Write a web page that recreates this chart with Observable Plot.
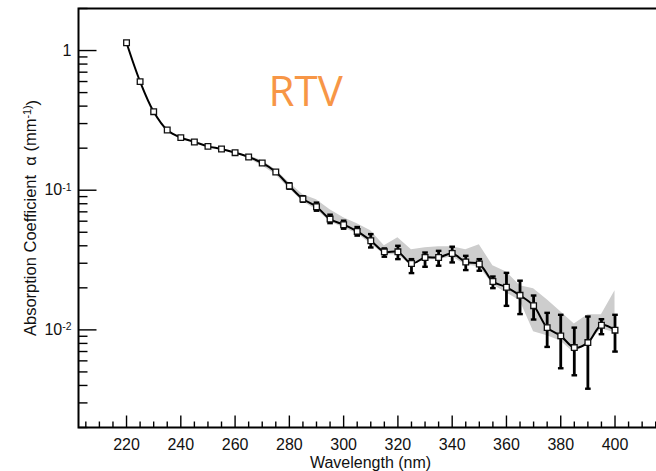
<!DOCTYPE html>
<html>
<head>
<meta charset="utf-8">
<script src="https://cdn.jsdelivr.net/npm/d3@7"></script>
<script src="https://cdn.jsdelivr.net/npm/@observablehq/plot@0.6"></script>
<style>
  html, body { margin: 0; padding: 0; background: #fff; }
  #chart { width: 656px; height: 471px; overflow: hidden; }
</style>
</head>
<body>
<div id="chart"></div>
<script>
// ---- data ----
const wavelength = [220,225,230,235,240,245,250,255,260,265,270,275,280,285,290,295,300,305,310,315,320,325,330,335,340,345,350,355,360,365,370,375,380,385,390,395,400];
const alpha = [1.136,0.599,0.365,0.270,0.238,0.2216,0.206,0.1974,0.1857,0.173,0.1567,0.135,0.1072,0.0865,0.0762,0.0621,0.0566,0.0507,0.0435,0.0362,0.0362,0.0299,0.033,0.033,0.0352,0.0306,0.0296,0.0222,0.0202,0.01767,0.0149,0.01038,0.00906,0.00747,0.00811,0.0108,0.00995];

const errWavelength = [280,285,290,295,300,305,310,315,320,325,330,335,340,345,350,355,360,365,370,375,380,385,390,395,400];
const errHigh = [0.1123,0.0906,0.0815,0.0668,0.0605,0.0545,0.0485,0.0383,0.0400,0.0321,0.0358,0.0368,0.0394,0.0339,0.0321,0.0241,0.0256,0.0225,0.01762,0.01324,0.01282,0.01038,0.01246,0.01193,0.01282];
const errLow  = [0.1024,0.0826,0.0713,0.0581,0.0530,0.0473,0.0389,0.0334,0.0321,0.0255,0.0283,0.0288,0.0304,0.0268,0.0265,0.0199,0.01486,0.01297,0.01186,0.00755,0.00531,0.00473,0.00379,0.00931,0.00699];

const bandWavelength = [265,270,275,280,285,290,295,300,305,310,315,320,325,330,335,340,345,350,355,360,365,370,375,380,385,390,395,400];
const bandHigh = [0.1768,0.1627,0.1403,0.1132,0.0928,0.0855,0.0725,0.0635,0.0575,0.0513,0.0400,0.0456,0.0375,0.0387,0.0394,0.0394,0.0375,0.0407,0.0288,0.0260,0.0207,0.01967,0.01641,0.01346,0.01104,0.01281,0.01281,0.01904];
const bandLow  = [0.1682,0.1498,0.1292,0.1025,0.0827,0.0725,0.0594,0.0538,0.0488,0.0414,0.0345,0.0345,0.0288,0.0318,0.0318,0.0334,0.0292,0.0283,0.0210,0.0184,0.01614,0.00968,0.00906,0.00834,0.00684,0.00794,0.01017,0.00952];

const xMajorTicks = [220,240,260,280,300,320,340,360,380,400];
const xMinorTicks = [205,210,215,225,230,235,245,250,255,265,270,275,285,290,295,305,310,315,325,330,335,345,350,355,365,370,375,385,390,395,405,410,415];
const yMajorTicks = [1,0.1,0.01];
const yMajorLabels = ["1","10^-1","10^-2"];
const yMinorTicks = [0.002,0.003,0.004,0.005,0.006,0.007,0.008,0.009,0.02,0.03,0.04,0.05,0.06,0.07,0.08,0.09,0.2,0.3,0.4,0.5,0.6,0.7,0.8,0.9,2];

const xTitle = "Wavelength (nm)";
const yTitle = "Absorption Coefficient  \u03b1 (mm^-1)";
const annotation = "RTV";

// ---- tables ----
const points = wavelength.map((w, i) => ({w, a: alpha[i]}));
const errs = errWavelength.map((w, i) => ({w, lo: errLow[i], hi: errHigh[i]}));
const band = bandWavelength.map((w, i) => ({w, lo: bandLow[i], hi: bandHigh[i]}));

// custom tick / cap symbols
const upTick = L => ({draw(ctx) { ctx.moveTo(0, 0); ctx.lineTo(0, -L); }});
const rightTick = L => ({draw(ctx) { ctx.moveTo(0, 0); ctx.lineTo(L, 0); }});
const cap = W => ({draw(ctx) { ctx.moveTo(-W, 0); ctx.lineTo(W, 0); }});

const FONT = "'Liberation Sans', Arial, Helvetica, sans-serif";

const chart = Plot.plot({
  width: 656,
  height: 471,
  marginLeft: 78,
  marginRight: -6,
  marginTop: 8,
  marginBottom: 44,
  style: {fontFamily: FONT, background: "white", color: "black"},
  x: {domain: [202.3, 417.5], axis: null},
  y: {type: "log", domain: [0.002, 2], axis: null},
  marks: [
    Plot.areaY(band, {x: "w", y1: "lo", y2: "hi", fill: "#cdcdcd", curve: "linear"}),
    Plot.ruleX(errs, {x: "w", y1: "lo", y2: "hi", stroke: "black", strokeWidth: 2.8}),
    Plot.dot(errs, {x: "w", y: "lo", symbol: cap(2.8), fill: "none", stroke: "black", strokeWidth: 2.4}),
    Plot.dot(errs, {x: "w", y: "hi", symbol: cap(2.8), fill: "none", stroke: "black", strokeWidth: 2.4}),
    Plot.line(points, {x: "w", y: "a", stroke: "black", strokeWidth: 2, curve: "catmull-rom"}),
    Plot.dot(points, {x: "w", y: "a", symbol: "square", r: 3.2, fill: "white", stroke: "#111", strokeWidth: 1.3}),
    // frame (left, top, bottom)
    Plot.frame({stroke: "black", strokeWidth: 2}),
    // ticks (inward)
    Plot.dot(xMajorTicks, {x: d => d, frameAnchor: "bottom", symbol: upTick(12), fill: "none", stroke: "black", strokeWidth: 1.4}),
    Plot.dot(xMinorTicks, {x: d => d, frameAnchor: "bottom", symbol: upTick(6), fill: "none", stroke: "black", strokeWidth: 1.4}),
    Plot.dot(yMajorTicks, {y: d => d, frameAnchor: "left", symbol: rightTick(18), fill: "none", stroke: "black", strokeWidth: 1.4}),
    Plot.dot(yMinorTicks, {y: d => d, frameAnchor: "left", symbol: rightTick(9), fill: "none", stroke: "black", strokeWidth: 1.4}),
    // tick labels
    Plot.text(xMajorTicks, {x: d => d, frameAnchor: "bottom", dy: 17, lineAnchor: "middle", text: d => String(d), fontSize: 16, fill: "#111"}),
    Plot.text(yMajorTicks, {y: d => d, frameAnchor: "left", dx: -7, textAnchor: "end", lineAnchor: "middle", text: (d, i) => yMajorLabels[i], fontSize: 16, fill: "#111"}),
    // titles
    Plot.text([xTitle], {frameAnchor: "bottom", dy: 35, textAnchor: "middle", lineAnchor: "middle", text: d => d, fontSize: 16, fill: "#111"}),
    Plot.text([yTitle], {frameAnchor: "left", dx: -48, rotate: -90, textAnchor: "middle", lineAnchor: "middle", text: d => d, fontSize: 16.5, fill: "#111"}),
    // annotation
    Plot.text([annotation], {x: () => 286, y: () => 0.5, text: d => d, fontSize: 42, fill: "#f79646", fontFamily: "'Open Sans', sans-serif", lineAnchor: "middle"})
  ]
});

// superscript post-processing ("10^-1" -> 10 with raised -1)
d3.select(chart).selectAll("text").each(function() {
  const t = this.textContent;
  if (t.includes("^")) {
    const [base, sup] = t.split("^");
    const sel = d3.select(this);
    sel.text(null);
    sel.append("tspan").text(base);
    sel.append("tspan").attr("dy", "-0.45em").attr("font-size", "0.65em").text(sup);
    if (base.startsWith("Absorption")) {
      sel.append("tspan").attr("dy", "0.45em").text(")");
    }
  }
});

document.getElementById("chart").appendChild(chart);
</script>
</body>
</html>
